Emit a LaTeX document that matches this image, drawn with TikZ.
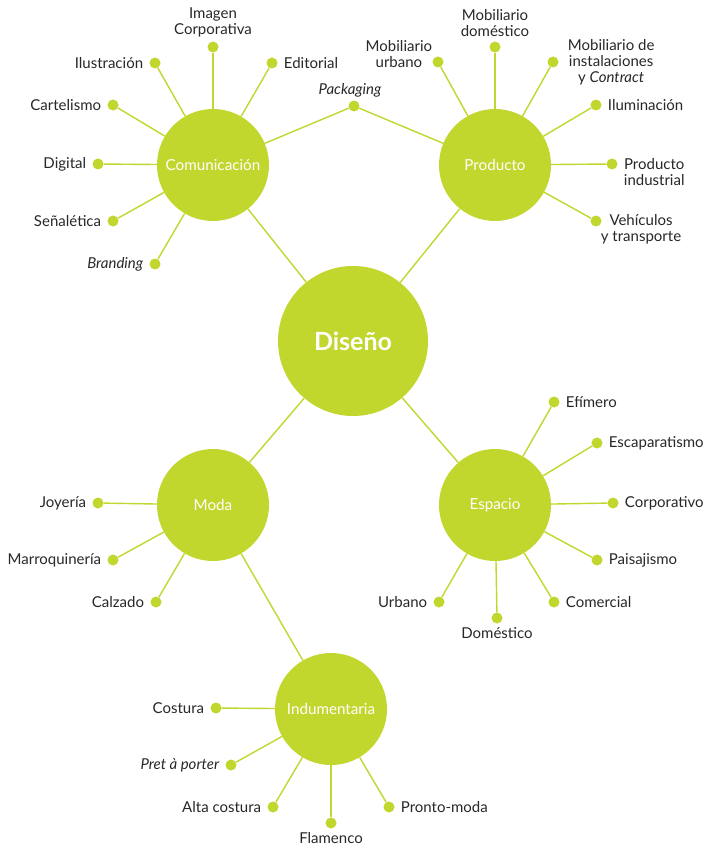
\documentclass[tikz,border=0pt]{standalone}
\usepackage{fontspec}
\setmainfont{Lato}
\usetikzlibrary{positioning}
\definecolor{lima}{RGB}{194,215,46}
\definecolor{tinta}{RGB}{40,40,40}

\begin{document}
\begin{tikzpicture}[x=1pt,y=-1pt,
    area/.style={circle,fill=lima,minimum size=112pt,inner sep=0pt,
                 text=white,font=\fontsize{15.2}{16}\selectfont},
    hoja/.style={circle,fill=lima,minimum size=11pt,inner sep=0pt},
    rotulo/.style={text=tinta,font=\fontsize{15}{16}\selectfont,
                   align=center,inner sep=1pt},
    enlace/.style={draw=lima,line width=1.4pt}]
   \useasboundingbox[fill=white] (0,0) rectangle (705,850);

   % areas
   \node[area,minimum size=150pt,font=\bfseries\fontsize{25}{28}\selectfont]
        (dis) at (353,341) {Diseño};
   \node[area] (com) at (213,165) {Comunicación};
   \node[area] (pro) at (495,165) {Producto};
   \node[area] (mod) at (213,505) {Moda};
   \node[area] (esp) at (495,505) {Espacio};
   \node[area] (ind) at (331,709) {Indumentaria};

   % comunicacion
   \node[hoja] (img) at (213,47) {};
   \node[hoja] (ilu) at (155,63) {};
   \node[hoja] (edi) at (272,63) {};
   \node[hoja] (car) at (113,105) {};
   \node[hoja] (dig) at (98,164) {};
   \node[hoja] (sen) at (113,221) {};
   \node[hoja] (bra) at (155,264) {};
   \node[hoja] (pac) at (354,106) {};
   \node[rotulo] (img-t) [above=3pt of img] {Imagen\\Corporativa};
   \node[rotulo] (ilu-t) [left=5pt of ilu] {Ilustración};
   \node[rotulo] (edi-t) [right=5pt of edi] {Editorial};
   \node[rotulo] (car-t) [left=5pt of car] {Cartelismo};
   \node[rotulo] (dig-t) [left=5pt of dig] {Digital};
   \node[rotulo] (sen-t) [left=5pt of sen] {Señalética};
   \node[rotulo] (bra-t) [left=5pt of bra] {\itshape Branding};
   \node[rotulo] (pac-t) [above=2pt of pac,xshift=-4pt] {\itshape Packaging};

   % producto
   \node[hoja] (mur) at (438,62) {};
   \node[hoja] (mdo) at (495,47) {};
   \node[hoja] (min) at (553,62) {};
   \node[hoja] (ilm) at (596,105) {};
   \node[hoja] (pin) at (612,164) {};
   \node[hoja] (veh) at (596,221) {};
   \node[rotulo] (mur-t) [left=-1pt of mur,yshift=8pt] {Mobiliario\\urbano};
   \node[rotulo] (mdo-t) [above=3pt of mdo] {Mobiliario\\doméstico};
   \node[rotulo] (min-t) [right=8pt of min] {Mobiliario de\\instalaciones\\y \textit{Contract}};
   \node[rotulo] (ilm-t) [right=5pt of ilm] {Iluminación};
   \node[rotulo] (pin-t) [right=5pt of pin,yshift=-8pt] {Producto\\industrial};
   \node[rotulo] (veh-t) [right=-2pt of veh,yshift=-8pt] {Vehículos\\y transporte};

   % moda
   \node[hoja] (joy) at (98,503) {};
   \node[hoja] (mar) at (113,560) {};
   \node[hoja] (cal) at (156,602) {};
   \node[rotulo] (joy-t) [left=5pt of joy] {Joyería};
   \node[rotulo] (mar-t) [left=5pt of mar] {Marroquinería};
   \node[rotulo] (cal-t) [left=5pt of cal] {Calzado};

   % espacio
   \node[hoja] (efi) at (554,402) {};
   \node[hoja] (esc) at (597,443) {};
   \node[hoja] (cor) at (613,503) {};
   \node[hoja] (pai) at (597,560) {};
   \node[hoja] (cme) at (554,602) {};
   \node[hoja] (dom) at (497,618) {};
   \node[hoja] (urb) at (439,602) {};
   \node[rotulo] (efi-t) [right=5pt of efi] {Efímero};
   \node[rotulo] (esc-t) [right=5pt of esc] {Escaparatismo};
   \node[rotulo] (cor-t) [right=5pt of cor] {Corporativo};
   \node[rotulo] (pai-t) [right=5pt of pai] {Paisajismo};
   \node[rotulo] (cme-t) [right=5pt of cme] {Comercial};
   \node[rotulo] (dom-t) [below=3pt of dom] {Doméstico};
   \node[rotulo] (urb-t) [left=5pt of urb] {Urbano};

   % indumentaria
   \node[hoja] (cos) at (216,708) {};
   \node[hoja] (pre) at (231,765) {};
   \node[hoja] (alt) at (273,807) {};
   \node[hoja] (fla) at (331,823) {};
   \node[hoja] (pmo) at (389,807) {};
   \node[rotulo] (cos-t) [left=5pt of cos] {Costura};
   \node[rotulo] (pre-t) [left=5pt of pre] {\itshape Pret à porter};
   \node[rotulo] (alt-t) [left=5pt of alt] {Alta costura};
   \node[rotulo] (fla-t) [below=3pt of fla] {Flamenco};
   \node[rotulo] (pmo-t) [right=5pt of pmo] {Pronto-moda};

   \path[enlace]
   (dis) edge (com) edge (pro) edge (mod) edge (esp)
   (mod) edge (ind)
   (com) edge (img) edge (ilu) edge (edi) edge (car) edge (dig)
         edge (sen) edge (bra) edge (pac)
   (pro) edge (pac) edge (mur) edge (mdo) edge (min) edge (ilm)
         edge (pin) edge (veh)
   (mod) edge (joy) edge (mar) edge (cal)
   (esp) edge (efi) edge (esc) edge (cor) edge (pai) edge (cme)
         edge (dom) edge (urb)
   (ind) edge (cos) edge (pre) edge (alt) edge (fla) edge (pmo);
\end{tikzpicture}
\end{document}
